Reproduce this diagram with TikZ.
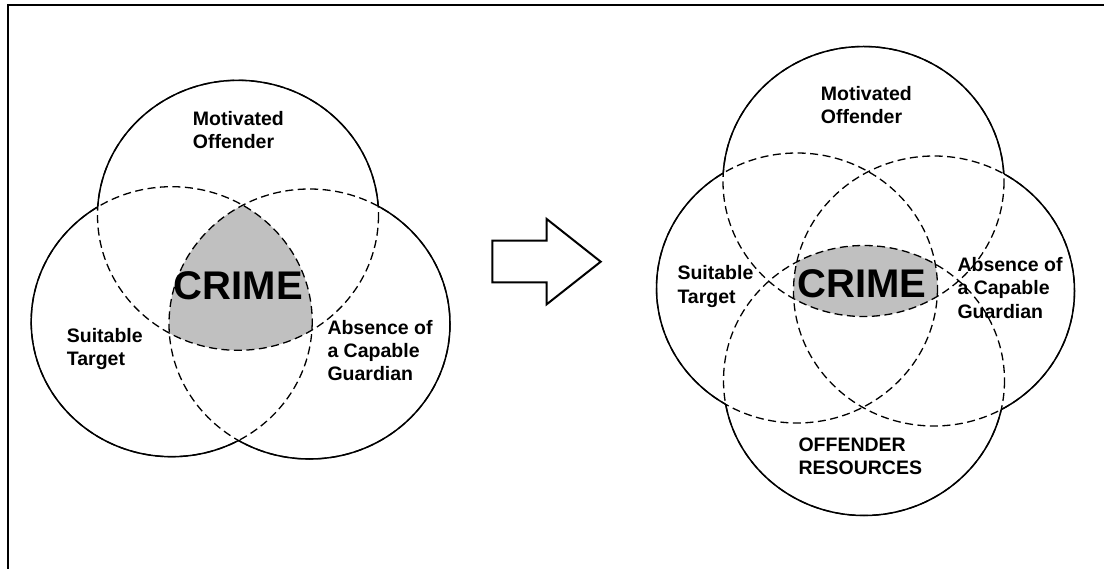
\documentclass[tikz,border=0pt]{standalone}
\usepackage{fontspec}
\setmainfont{Liberation Sans}
\definecolor{crimegray}{RGB}{192,192,192}
\tikzset{
  ring/.style={x radius=140.5, y radius=135},
  dashring/.style={line width=1.3pt, dash pattern=on 8pt off 4.5pt},
  solidring/.style={line width=1.5pt},
  lbl/.style={anchor=base west, align=left, inner sep=0pt, font=\bfseries\fontsize{19.5}{23.3}\selectfont},
  crime/.style={anchor=base, inner sep=0pt, font=\bfseries\fontsize{40}{40}\selectfont}
}
\def\outside(#1){\clip (-5,-5) rectangle (1110,575) (#1) ellipse [ring];}

\begin{document}
\begin{tikzpicture}[x=1pt,y=-1pt]
			\useasboundingbox (0,0) rectangle (1104,569);
			
			%%%%% FRAME %%%%%
			\draw[line width=2pt] (7.5,569) -- (7.5,5.3) -- (1104,5.3);
			
			%%%%% LEFT VENN %%%%%
			\coordinate (offL) at (238,215.3);
			\coordinate (tgtL) at (171.7,321.7);
			\coordinate (grdL) at (309.5,324);
			
			\begin{scope}
				\clip (offL) ellipse [ring];
				\clip (tgtL) ellipse [ring];
				\fill[crimegray] (grdL) ellipse [ring];
			\end{scope}
			
			\draw[dashring] (offL) ellipse [ring] (tgtL) ellipse [ring] (grdL) ellipse [ring];
			\begin{scope}[even odd rule]\outside(tgtL)\outside(grdL)\draw[solidring] (offL) ellipse [ring];\end{scope}
			\begin{scope}[even odd rule]\outside(offL)\outside(grdL)\draw[solidring] (tgtL) ellipse [ring];\end{scope}
			\begin{scope}[even odd rule]\outside(offL)\outside(tgtL)\draw[solidring] (grdL) ellipse [ring];\end{scope}
			
			% labels sit on the baseline of their last line
			\node[lbl] (motL) at (192.7,148.7) {Motivated\\Offender};
			\node[lbl] (suitL) at (66.7,365.5) {Suitable\\Target};
			\node[lbl] (absL) at (327.3,381) {Absence of\\a Capable\\Guardian};
			\node[crime] (crimeL) at (238.3,299.3) {CRIME};
			
			%%%%% ARROW %%%%%
			\draw[line width=2pt, line join=miter] (492.3,240.7) -- (546.7,240.7) -- (546.7,219) -- (600.7,261.7)
				-- (546.7,304.3) -- (546.7,282.3) -- (492.3,282.3) -- cycle;
			
			%%%%% RIGHT VENN %%%%%
			\coordinate (offR) at (863.5,181.5);
			\coordinate (resR) at (864,380.5);
			\coordinate (tgtR) at (797,288);
			\coordinate (grdR) at (934,291);
			
			\begin{scope}
				\clip (offR) ellipse [ring];
				\clip (resR) ellipse [ring];
				\clip (tgtR) ellipse [ring];
				\fill[crimegray] (grdR) ellipse [ring];
			\end{scope}
			
			\draw[dashring] (offR) ellipse [ring] (resR) ellipse [ring] (tgtR) ellipse [ring] (grdR) ellipse [ring];
			\begin{scope}[even odd rule]\outside(resR)\outside(tgtR)\outside(grdR)\draw[solidring] (offR) ellipse [ring];\end{scope}
			\begin{scope}[even odd rule]\outside(offR)\outside(tgtR)\outside(grdR)\draw[solidring] (resR) ellipse [ring];\end{scope}
			\begin{scope}[even odd rule]\outside(offR)\outside(resR)\outside(grdR)\draw[solidring] (tgtR) ellipse [ring];\end{scope}
			\begin{scope}[even odd rule]\outside(offR)\outside(resR)\outside(tgtR)\draw[solidring] (grdR) ellipse [ring];\end{scope}
			
			\node[lbl] (motR) at (820.7,124) {Motivated\\Offender};
			\node[lbl] (suitR) at (677.3,303.3) {Suitable\\Target};
			\node[lbl] (absR) at (957.3,318.3) {Absence of\\a Capable\\Guardian};
			\node[lbl] (resLbl) at (798.3,475) {OFFENDER\\RESOURCES};
			\node[crime] (crimeR) at (862,297.7) {CRIME};
			
			%%%%% END %%%%%
\end{tikzpicture}
\end{document}
